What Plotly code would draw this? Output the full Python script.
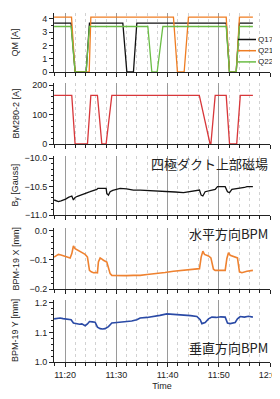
import pandas as pd
import plotly.graph_objects as go
from plotly.subplots import make_subplots

BASE = pd.Timestamp("2024-01-01 11:20:00")

# ---- data (times in minutes relative to 11:20) ----
q17_t = [-2.15, 1.17, 1.95, 4.10, 4.75, 11.27, 12.05, 13.34, 14.0, 31.45, 32.09, 33.4, 34.04, 36.66]
q17_v = [3.69, 3.69, 0, 0, 3.69, 3.69, 0, 0, 3.69, 3.69, 0, 0, 3.69, 3.69]
q21_t = [-2.15, 1.25, 1.95, 4.70, 5.02, 21.15, 21.93, 23.24, 24.08, 31.45, 32.09, 33.4, 34.04, 36.66]
q21_v = [4.14, 4.14, 0, 0, 4.14, 4.14, 0, 0, 4.14, 4.14, 0, 0, 4.14, 4.14]
q22_t = [-2.15, 1.17, 1.95, 4.10, 4.75, 16.15, 16.93, 17.97, 19.08, 31.45, 32.09, 33.4, 34.04, 36.66]
q22_v = [3.43, 3.43, 0, 0, 3.43, 3.43, 0, 0, 3.43, 3.43, 0, 0, 3.43, 3.43]

bm_t = [-2.15, 1.3, 1.95, 4.36, 5.02, 6.31, 7.17, 8.0, 9.12, 26.2, 28.3, 28.46, 29.3, 31.45, 32.1, 33.5, 34.2, 36.66]
bm_v = [165, 165, 0, 0, 165, 165, 0, 0, 165, 165, 0, 0, 165, 165, 0, 0, 165, 165]

by_t = [-2.15, -1.7, -1.31, -0.8, -0.33, 0.1, 0.64, 1.0, 1.31, 1.62, 1.95, 2.4, 2.93, 3.5, 4.10, 4.5, 4.88,
        5.4, 5.86, 6.19, 6.39, 7.0, 7.6, 8.01, 8.14, 8.46, 8.79, 9.3, 9.77, 10.74, 12.0, 13.34, 14.65,
        16.0, 17.25, 18.5, 19.86, 21.5, 23.11, 24.5, 25.72, 26.23, 26.56, 26.89, 27.34, 28.0, 28.65,
        29.30, 29.75, 30.5, 31.25, 31.70, 32.09, 32.56, 33.4, 34.18, 35.0, 35.49, 36.1, 36.66]
by_v = [-10.735, -10.75, -10.765, -10.75, -10.735, -10.72, -10.69, -10.68, -10.665, -10.735, -10.69, -10.67, -10.65, -10.63, -10.605, -10.60, -10.59,
        -10.575, -10.56, -10.55, -10.53, -10.525, -10.53, -10.53, -10.62, -10.65, -10.59, -10.565, -10.55, -10.53, -10.54, -10.56, -10.56,
        -10.565, -10.57, -10.58, -10.59, -10.595, -10.605, -10.59, -10.57, -10.56, -10.65, -10.665, -10.59, -10.58, -10.57,
        -10.55, -10.50, -10.505, -10.50, -10.59, -10.605, -10.55, -10.54, -10.53, -10.515, -10.50, -10.505, -10.50]

bx_t = [-2.15, -1.7, -1.31, -0.8, -0.33, 0.3, 0.98, 1.31, 1.62, 1.95, 2.4, 2.93, 3.4, 3.91, 4.36, 4.75, 5.1, 5.53,
        6.0, 6.31, 6.50, 6.84, 7.2, 7.48, 8.14, 8.79, 9.12, 10.0, 10.74, 12.0, 13.34, 14.65, 16.0, 17.91, 19.5, 21.15,
        22.8, 24.41, 26.23, 26.56, 26.89, 27.21, 27.99, 28.46, 28.96, 29.30, 30.3, 31.25, 31.58, 31.89, 32.23, 32.7,
        33.20, 33.65, 34.04, 34.51, 35.49, 36.1, 36.66]
bx_v = [-0.090, -0.085, -0.081, -0.083, -0.086, -0.090, -0.093, -0.078, -0.052, -0.061, -0.065, -0.070, -0.075, -0.081, -0.090, -0.136, -0.141, -0.144,
        -0.143, -0.144, -0.107, -0.093, -0.097, -0.101, -0.107, -0.147, -0.153, -0.154, -0.155, -0.154, -0.153, -0.153, -0.150, -0.147, -0.143, -0.139,
        -0.136, -0.132, -0.130, -0.090, -0.070, -0.081, -0.086, -0.093, -0.132, -0.136, -0.135, -0.136, -0.095, -0.075, -0.084, -0.087,
        -0.090, -0.093, -0.141, -0.144, -0.139, -0.138, -0.136]

byy_t = [-2.15, -1.5, -0.98, -0.4, 0.33, 0.8, 1.17, 1.62, 2.29, 2.8, 3.26, 3.91, 4.36, 4.75, 5.3, 5.86, 6.31, 6.84, 7.3, 7.81,
         8.46, 9.12, 10.10, 11.0, 12.05, 13.0, 14.0, 14.65, 16.0, 17.25, 18.5, 19.86, 21.5, 23.11, 24.5, 25.72, 26.37, 26.70,
         27.34, 27.99, 28.65, 29.5, 30.4, 31.25, 31.70, 32.23, 33.20, 33.65, 34.18, 35.0, 35.8, 36.66]
byy_v = [1.146, 1.148, 1.149, 1.147, 1.146, 1.145, 1.143, 1.132, 1.129, 1.128, 1.129, 1.123, 1.129, 1.137, 1.136, 1.135, 1.118, 1.113, 1.112, 1.113,
         1.120, 1.132, 1.134, 1.135, 1.137, 1.139, 1.143, 1.149, 1.151, 1.154, 1.158, 1.163, 1.161, 1.160, 1.157, 1.154, 1.143, 1.130,
         1.134, 1.146, 1.152, 1.151, 1.153, 1.152, 1.132, 1.130, 1.134, 1.146, 1.154, 1.152, 1.155, 1.152]

legend_names = ["Q17", "Q21", "Q22"]


def ts(mins):
    return [BASE + pd.Timedelta(minutes=m) for m in mins]


C_Q17 = "#111111"
C_Q21 = "#ef7d22"
C_Q22 = "#6bbd45"
C_BM = "#d8373a"
C_BX = "#ef8230"
C_BY = "#2a4aa6"
q_colors = [C_Q17, C_Q21, C_Q22]

fig = make_subplots(rows=5, cols=1, shared_xaxes=True)

for name, tt, vv, cc in zip(legend_names, [q17_t, q21_t, q22_t], [q17_v, q21_v, q22_v], q_colors):
    fig.add_trace(go.Scatter(x=ts(tt), y=vv, mode="lines", name=name,
                             line=dict(color=cc, width=1.3)), row=1, col=1)
fig.add_trace(go.Scatter(x=ts(bm_t), y=bm_v, mode="lines", name="BM280-2",
                         line=dict(color=C_BM, width=1.3)), row=2, col=1)
fig.add_trace(go.Scatter(x=ts(by_t), y=by_v, mode="lines", name="By",
                         line=dict(color="#111111", width=1.3)), row=3, col=1)
fig.add_trace(go.Scatter(x=ts(bx_t), y=bx_v, mode="lines", name="BPM-19 X",
                         line=dict(color=C_BX, width=1.6)), row=4, col=1)
fig.add_trace(go.Scatter(x=ts(byy_t), y=byy_v, mode="lines", name="BPM-19 Y",
                         line=dict(color=C_BY, width=1.6)), row=5, col=1)

# geometry: the page adds an 8px body margin; keep the figure inside the window
OFF = 8
W, H = 280 - 2 * OFF, 399 - 2 * OFF
PLOT_L, PLOT_R, PLOT_T, PLOT_B = 54, 270, 13, 362      # in screen pixels
L, R = PLOT_L - OFF, W - (PLOT_R - OFF)
T, B = PLOT_T - OFF, H - (PLOT_B - OFF)
PH = PLOT_B - PLOT_T
PW = PLOT_R - PLOT_L

def py(sy):
    return (PLOT_B - sy) / PH
def pxx(sx):
    return (sx - PLOT_L) / PW
def dom(top_px, bot_px):
    return [py(bot_px), py(top_px)]

domains = [dom(13, 72), dom(83, 144), dom(156, 215), dom(228, 289), dom(300, 362)]
yranges = [[0, 4.45], [0, 207], [-11, -9.96], [-0.2, 0.01], [1.0, 1.21]]
ydt = [1, 100, 0.5, 0.1, 0.1]
ymin = [0.5, 20, 0.1, 0.02, 0.02]
yfmt = ["d", "d", ".1f", ".1f", ".1f"]

FONT = "Liberation Sans, Arial, sans-serif"
xr = [BASE + pd.Timedelta(minutes=-2.17), BASE + pd.Timedelta(minutes=40)]

for i in range(5):
    sx = "xaxis" if i == 0 else f"xaxis{i+1}"
    sy = "yaxis" if i == 0 else f"yaxis{i+1}"
    fig.layout[sy].update(domain=domains[i], range=yranges[i], dtick=ydt[i], tick0=0,
                          tickformat=yfmt[i], showgrid=False, zeroline=False,
                          showline=True, linecolor="#222", linewidth=1,
                          ticks="outside", ticklen=4, tickcolor="#222",
                          tickfont=dict(size=9, color="#222", family=FONT),
                          minor=dict(dtick=ymin[i], ticks="outside", ticklen=2, tickcolor="#222"))
    fig.layout[sx].update(range=xr, type="date", showgrid=True, gridcolor="#9a9a9a", gridwidth=1,
                          dtick=600000, tick0=BASE, tickformat="%H:%M",
                          showline=True, linecolor="#222", linewidth=1, zeroline=False,
                          ticks="outside", ticklen=4, tickcolor="#222",
                          tickfont=dict(size=9, color="#222", family=FONT),
                          showticklabels=(i == 4), ticklabeloverflow="allow",
                          minor=dict(dtick=120000, tick0=BASE, ticks="outside", ticklen=3, tickcolor="#222",
                                     showgrid=True, gridcolor="#d2d2d2", griddash="dot", gridwidth=1))

fig.layout["xaxis5"].update(title=dict(text="Time", font=dict(size=9, color="#222", family=FONT), standoff=5))

ytitles = ["QM [A]", "BM280-2 [A]", "B<sub>y</sub> [Gauss]", "BPM-19 X [mm]", "BPM-19 Y [mm]"]
annotations = []
for i, tt in enumerate(ytitles):
    annotations.append(dict(text=tt, xref="paper", yref="paper", x=pxx(15),
                            y=sum(domains[i]) / 2, textangle=-90, showarrow=False,
                            xanchor="center", yanchor="middle",
                            font=dict(size=9, color="#222", family=FONT)))

labels = [("四極ダクト上部磁場", 163), ("水平方向BPM", 233), ("垂直方向BPM", 347)]
for txt, ypx in labels:
    annotations.append(dict(text=txt, xref="paper", yref="paper", x=1.0, y=py(ypx),
                            xanchor="right", yanchor="middle", showarrow=False,
                            font=dict(size=13, color="#222", family="Noto Sans CJK JP")))

# compact legend (swatch lines + labels) in the QM panel
shapes = []
for k, (name, cc) in enumerate(zip(legend_names, q_colors)):
    ypos = py(39.5 + 11.2 * k)
    shapes.append(dict(type="line", xref="paper", yref="paper", x0=pxx(238), x1=pxx(256),
                       y0=ypos, y1=ypos, line=dict(color=cc, width=1.5)))
    annotations.append(dict(text=name, xref="paper", yref="paper", x=pxx(256.5), y=ypos,
                            xanchor="left", yanchor="middle", showarrow=False, borderpad=0,
                            font=dict(size=8, color="#222", family=FONT)))

fig.update_layout(
    width=W, height=H,
    margin=dict(l=L, r=R, t=T, b=B, autoexpand=False),
    paper_bgcolor="white", plot_bgcolor="white",
    showlegend=False,
    annotations=annotations,
    shapes=shapes,
)

fig.write_html("out.html")
